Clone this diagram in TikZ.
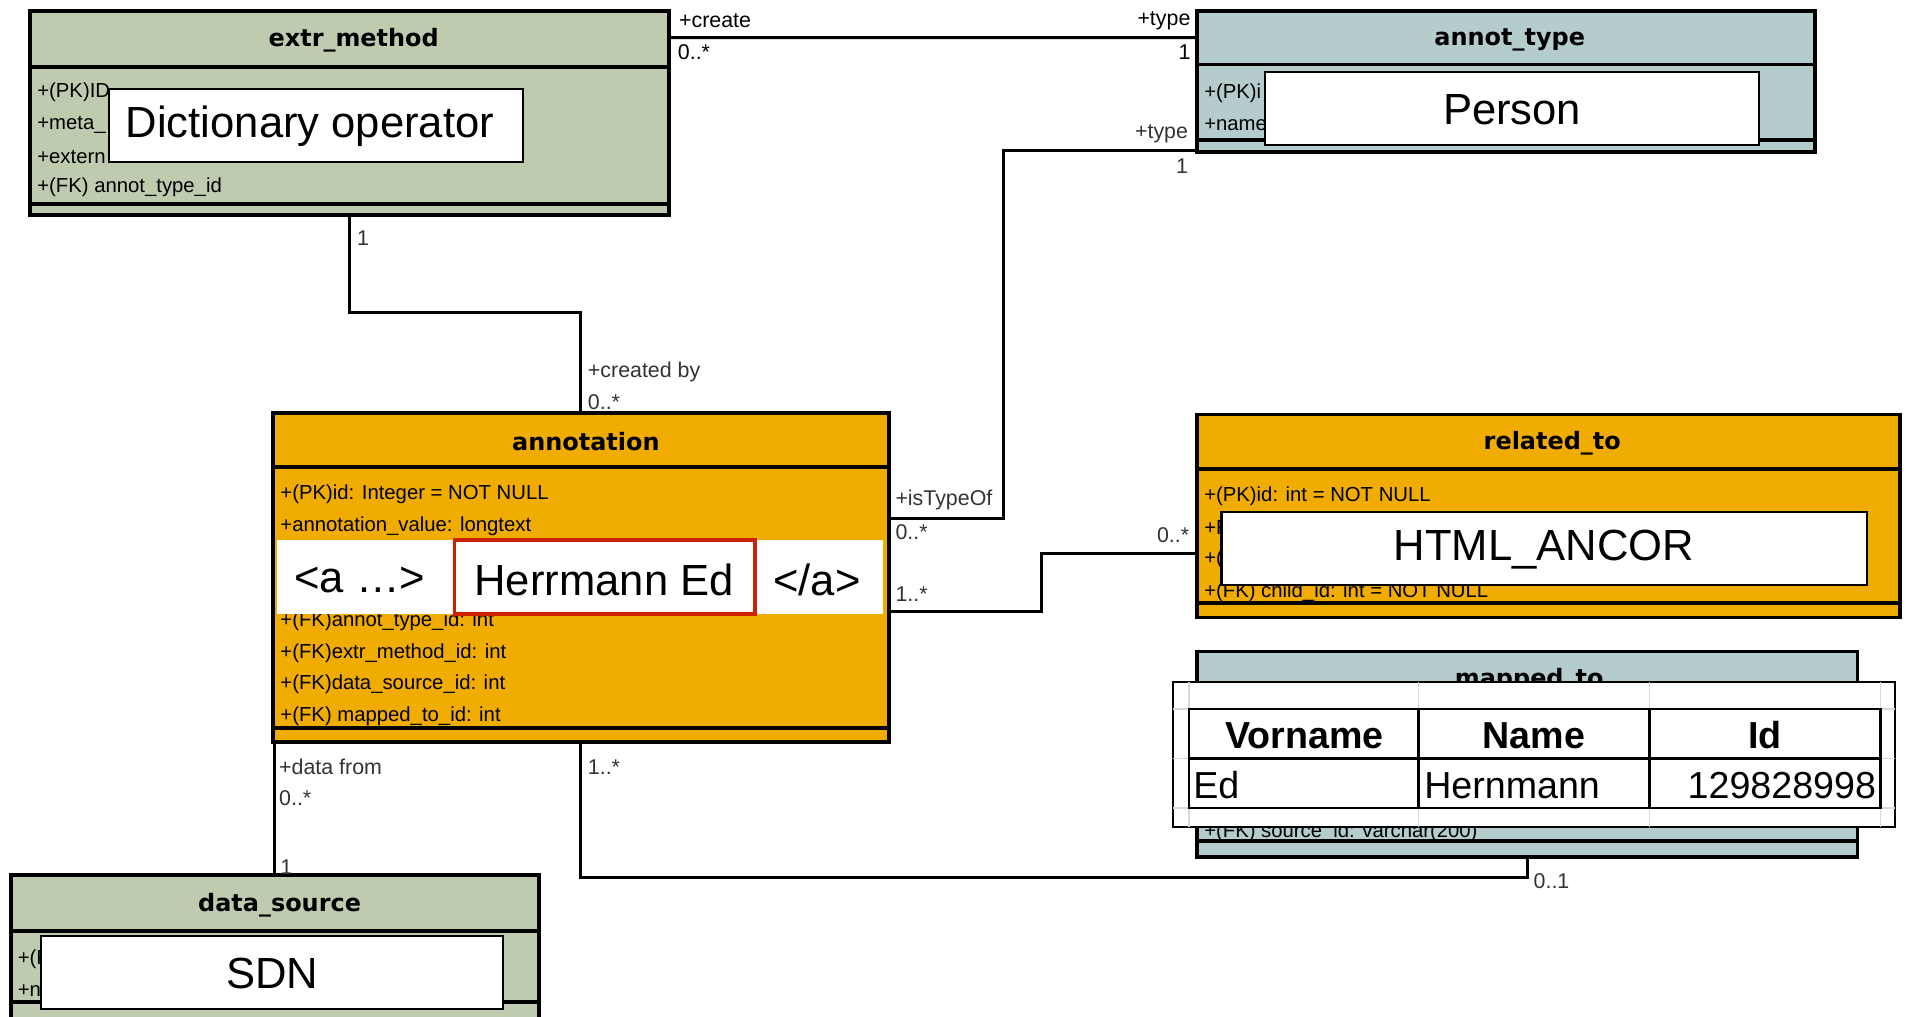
\documentclass[tikz,border=0pt]{standalone}
\usepackage{fontspec}
\setmainfont{Liberation Sans}
\newfontfamily\titlefam{DejaVu Sans}
\usetikzlibrary{calc}
\definecolor{umlgreen}{RGB}{191,203,175}
\definecolor{umlblue}{RGB}{180,204,204}
\definecolor{umlorange}{RGB}{240,172,0}
\definecolor{markred}{RGB}{204,34,0}
\tikzset{
  ubox/.style={draw=black, line width=0.9pt, inner sep=0pt, outer sep=0pt},
  sepline/.style={line width=0.9pt},
  conn/.style={line width=0.7pt},
  ttl/.style={font=\titlefam\bfseries\fontsize{5.6}{6}\selectfont, inner sep=0pt},
  attr/.style={font=\fontsize{4.75}{5}\selectfont, inner sep=0pt, anchor=west},
  lbl/.style={font=\fontsize{5}{5.5}\selectfont, inner sep=0pt, text=black!80},
  over/.style={draw=black, line width=0.5pt, fill=white, inner sep=0pt, outer sep=0pt},
  bigtxt/.style={font=\fontsize{10.2}{11}\selectfont, inner sep=0pt},
  tabtxt/.style={font=\fontsize{8.8}{10}\selectfont, inner sep=0pt},
  grid/.style={draw=black!15, line width=0.4pt},
}
\begin{document}
\begin{tikzpicture}[x=0.01cm, y=-0.01cm]
\clip (0,0) rectangle (1568,836);
\fill[white] (0,0) rectangle (1568,836);

% ---------------- boxes ----------------
% extr_method
\node[ubox, fill=umlgreen, minimum width=5.25cm, minimum height=1.68cm] (extr) at (287.5,93) {};
\draw[sepline] (25,55) -- (550,55);
\draw[sepline] (25,168) -- (550,168);
\node[ttl] (extrT) at (291,33) {extr\_method};
\node[attr] (e1) at (30,76) {+(PK)ID};
\node[attr] (e2) at (30,103) {+meta\_};
\node[attr] (e3) at (30,129) {+extern};
\node[attr] (e4) at (30,154) {+(FK) annot\_type\_id};

% annot_type
\node[ubox, fill=umlblue, minimum width=5.08cm, minimum height=1.16cm] (annot) at (1239,67) {};
\draw[sepline] (985,53) -- (1493,53);
\draw[sepline] (985,115) -- (1493,115);
\node[ttl] (annotT) at (1242,33) {annot\_type};
\node[attr] (a1) at (990,77) {+(PK)i};
\node[attr] (a2) at (990,103) {+name};

% annotation
\node[ubox, fill=umlorange, minimum width=5.06cm, minimum height=2.70cm] (annotation) at (478,475) {};
\draw[sepline] (225,384) -- (731,384);
\draw[sepline] (225,599) -- (731,599);
\node[ttl] (annotationT) at (482,363) {annotation};
\node[attr] (n1) at (230,407) {+(PK)id: Integer = NOT NULL};
\node[attr] (n2) at (230,433) {+annotation\_value: longtext};
\node[attr] (n3) at (230,511) {+(FK)annot\_type\_id: int};
\node[attr] (n4) at (230,537) {+(FK)extr\_method\_id: int};
\node[attr] (n5) at (230,563) {+(FK)data\_source\_id: int};
\node[attr] (n6) at (230,589) {+(FK) mapped\_to\_id: int};

% related_to
\node[ubox, fill=umlorange, minimum width=5.78cm, minimum height=1.67cm] (related) at (1274,424.5) {};
\draw[sepline] (985,386) -- (1563,386);
\draw[sepline] (985,496) -- (1563,496);
\node[ttl] (relatedT) at (1277,365) {related\_to};
\node[attr] (r1) at (990,408) {+(PK)id: int = NOT NULL};
\node[attr] (r2) at (990,434) {+R};
\node[attr] (r3) at (990,460) {+(};
\node[attr] (r4) at (990,487) {+(FK) child\_id: int = NOT NULL};

% mapped_to
\node[ubox, fill=umlblue, minimum width=5.43cm, minimum height=1.69cm] (mapped) at (1256.5,620.5) {};
\draw[sepline] (985,692) -- (1528,692);
\node[ttl] (mappedT) at (1258,560) {mapped\_to};
\node[attr] (m1) at (990,685) {+(FK) source\_id: varchar(200)};

% data_source
\node[ubox, fill=umlgreen, minimum width=4.34cm, minimum height=1.40cm] (dsrc) at (226,790) {};
\draw[sepline] (9,766) -- (443,766);
\draw[sepline] (9,824) -- (443,824);
\node[ttl] (dsrcT) at (230,745) {data\_source};
\node[attr] (d1) at (14,789) {+(F};
\node[attr] (d2) at (14,815) {+n};

% ---------------- connectors ----------------
\draw[conn] ($(extr.north east)+(0,22)$) -- ($(annot.north west)+(0,22)$);
\draw[conn] ($(annot.south west)+(0,-1)$) -- ++(-159,0) |- ($(annotation.north east)+(0,87)$);
\draw[conn] ($(extr.south west)+(263,0)$) -- ++(0,80) -| ($(annotation.north west)+(253,0)$);
\draw[conn] ($(annotation.north east)+(0,163)$) -- ++(126,0) |- ($(related.north west)+(0,114)$);
\draw[conn] ($(annotation.south west)+(253,0)$) -- ++(0,112) -| ($(mapped.south west)+(272,0)$);
\coordinate (dfrom) at ($(annotation.south west)+(1,0)$);
\draw[conn] (dfrom) -- (dfrom |- dsrc.north);

% ---------------- connector labels ----------------
\node[lbl, anchor=west, text=black] (l1) at (558,17) {+create};
\node[lbl, anchor=west, text=black] (l2) at (557,43) {0..*};
\node[lbl, anchor=east, text=black] (l3) at (980,17) {+type};
\node[lbl, anchor=east, text=black] (l4) at (980,43) {1};
\node[lbl, anchor=east] (l5) at (978,110) {+type};
\node[lbl, anchor=east] (l6) at (978,137) {1};
\node[lbl, anchor=west] (l7) at (736,411) {+isTypeOf};
\node[lbl, anchor=west] (l8) at (736,438) {0..*};
\node[lbl, anchor=west] (l9) at (293,196) {1};
\node[lbl, anchor=west] (l10) at (483,306) {+created by};
\node[lbl, anchor=west] (l11) at (483,331) {0..*};
\node[lbl, anchor=west] (l12) at (736,489) {1..*};
\node[lbl, anchor=east] (l13) at (979,440) {0..*};
\node[lbl, anchor=west] (l14) at (483,631) {1..*};
\node[lbl, anchor=west] (l15) at (1261,725) {0..1};
\node[lbl, anchor=west] (l16) at (229,631) {+data from};
\node[lbl, anchor=west] (l17) at (229,657) {0..*};
\node[lbl, anchor=west] (l18) at (230,713) {1};

% ---------------- overlays ----------------
\node[over, minimum width=3.40cm, minimum height=0.60cm] (dict) at (260,103) {};
\node[bigtxt] (dictT) at (255,104) {Dictionary operator};
\node[over, minimum width=4.06cm, minimum height=0.60cm] (person) at (1244,89) {};
\node[bigtxt] (personT) at (1244,90) {Person};
\node[over, minimum width=5.31cm, minimum height=0.60cm] (html) at (1270.5,451) {};
\node[bigtxt] (htmlT) at (1270,452) {HTML\_ANCOR};
\node[over, minimum width=3.80cm, minimum height=0.60cm] (sdn) at (224,800) {};
\node[bigtxt] (sdnT) at (224,801) {SDN};

% annotation band
\node[fill=white, inner sep=0pt, minimum width=4.98cm, minimum height=0.61cm] (band) at (477,474.5) {};
\node[draw=markred, line width=0.9pt, fill=white, inner sep=0pt, minimum width=2.47cm, minimum height=0.61cm] (redbox) at (497.5,474.5) {};
\node[bigtxt] (aopen) at (296,477) {<a …>};
\node[bigtxt] (herr) at (497,477) {Herrmann Ed};
\node[bigtxt] (aclose) at (672,477) {</a>};

% table overlay
\node[over, minimum width=5.94cm, minimum height=1.19cm] (tab) at (1262,620.5) {};
\foreach \yy in {583,624,665} \draw[grid] (965,\yy) -- (1559,\yy);
\foreach \xx in {978,1167,1357,1547} \draw[grid] (\xx,561) -- (\xx,680);
\draw[line width=0.5pt] (978,583) rectangle (1547,665);
\draw[line width=0.5pt] (978,624) -- (1547,624);
\draw[line width=0.5pt] (1167,583) -- (1167,665);
\draw[line width=0.5pt] (1357,583) -- (1357,665);
\node[tabtxt, font=\fontsize{8.8}{10}\selectfont\bfseries] (h1) at (1073,605) {Vorname};
\node[tabtxt, font=\fontsize{8.8}{10}\selectfont\bfseries] (h2) at (1262,605) {Name};
\node[tabtxt, font=\fontsize{8.8}{10}\selectfont\bfseries] (h3) at (1452,605) {Id};
\node[tabtxt, anchor=west] (c1) at (981,646) {Ed};
\node[tabtxt, anchor=west] (c2) at (1171,646) {Hernmann};
\node[tabtxt, anchor=east] (c3) at (1544,646) {129828998};
\end{tikzpicture}
\end{document}
